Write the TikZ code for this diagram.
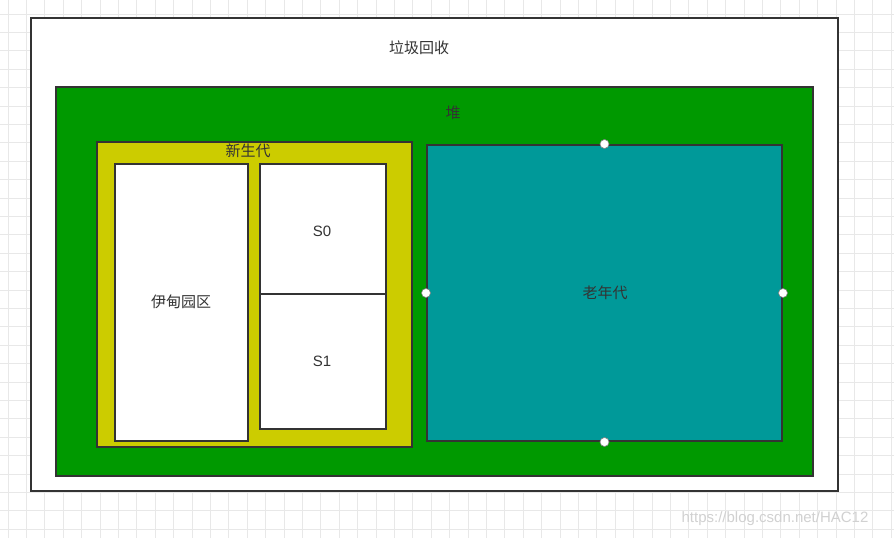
\documentclass[tikz,border=0pt]{standalone}
\usepackage{fontspec}
\setmainfont{Liberation Sans}
\newfontfamily\cjk{Noto Sans CJK SC}
\definecolor{edge}{HTML}{333333}
\definecolor{heapgreen}{HTML}{009900}
\definecolor{younggold}{HTML}{CCCC00}
\definecolor{oldteal}{HTML}{009999}
\definecolor{gridgray}{HTML}{E8E8E8}
\definecolor{txt}{HTML}{333333}
\begin{document}
\begin{tikzpicture}[x=1pt,y=-1pt,
  box/.style={draw=edge,line width=2pt},
  lbl/.style={text=txt,font=\cjk\fontsize{15}{18}\selectfont,inner sep=0pt},
  handle/.style={circle,draw=gray,fill=white,line width=0.6pt,minimum size=9pt,inner sep=0pt}]
\useasboundingbox (0,0) rectangle (894,538);
\fill[white] (0,0) rectangle (894,538);
\foreach \i in {0,...,49} {\draw[gridgray,line width=0.8pt] ({8+18.4*\i},0) -- ({8+18.4*\i},538);}
\foreach \j in {0,...,29} {\draw[gridgray,line width=0.8pt] (0,{-4.5+18.4*\j}) -- (894,{-4.5+18.4*\j});}
\node[box,fill=white,minimum width=807pt,minimum height=473pt,anchor=north west] (gc) at (30,17) {};
\node[box,fill=heapgreen,minimum width=757pt,minimum height=389pt,anchor=north west] (heap) at (55,86) {};
\node[box,fill=younggold,minimum width=315pt,minimum height=305pt,anchor=north west] (young) at (96,141) {};
\node[box,fill=white,minimum width=133pt,minimum height=277pt,anchor=north west] (eden) at (114,163) {};
\node[box,fill=white,minimum width=126pt,minimum height=130pt,anchor=north west] (s0) at (259,163) {};
\node[box,fill=white,minimum width=126pt,minimum height=135pt,anchor=north west] (s1) at (259,293) {};
\node[box,fill=oldteal,minimum width=355pt,minimum height=296pt,anchor=north west] (old) at (426,144) {};
\node[lbl] (tgc) at (419,48) {垃圾回收};
\node[lbl] (theap) at (453,113) {堆};
\node[lbl] (tyoung) at (248,151) {新生代};
\node[lbl] (teden) at (181,302) {伊甸园区};
\node[lbl,font=\fontsize{15}{18}\selectfont] (ts0) at (322,231) {S0};
\node[lbl,font=\fontsize{15}{18}\selectfont] (ts1) at (322,361) {S1};
\node[lbl] (told) at (605,293) {老年代};
\node[handle] (h1) at (old.north) {};
\node[handle] (h2) at (old.south) {};
\node[handle] (h3) at (old.west) {};
\node[handle] (h4) at (old.east) {};
\node[text=black!18,font=\fontsize{15}{18}\selectfont,inner sep=0pt] (wm) at (775,519) {https://blog.csdn.net/HAC12};
\end{tikzpicture}
\end{document}
